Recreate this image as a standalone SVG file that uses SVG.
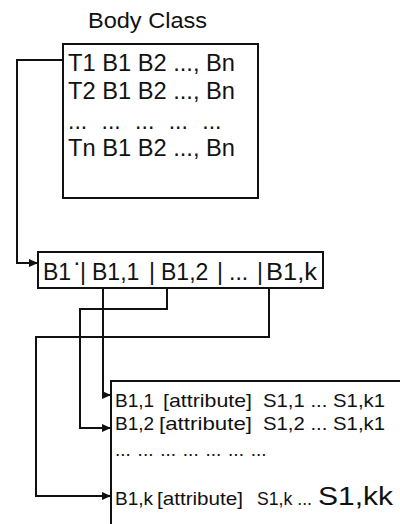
<svg xmlns="http://www.w3.org/2000/svg" width="400" height="524" viewBox="0 0 400 524">
<style>
text{font-family:"Liberation Sans",Arial,sans-serif;fill:#111}
.box{fill:#fff;stroke:#111;stroke-width:2}
.c{fill:none;stroke:#111;stroke-width:2}
.t1{font-size:23px}
.t2{font-size:23px}
.t3{font-size:19px}
</style>
<defs>
<marker id="ah" markerWidth="10" markerHeight="10" refX="9" refY="5" orient="auto" markerUnits="userSpaceOnUse">
<path d="M0,1 L9,5 L0,9 Z" fill="#111"/>
</marker>
</defs>
<rect width="400" height="524" fill="#fff"/>
<g id="body-class">
<text x="88" y="28" style="font-size:22px" textLength="119" lengthAdjust="spacingAndGlyphs">Body Class</text>
<rect class="box" x="63" y="44" width="195" height="154"/>
<text class="t1" x="68" y="71" textLength="167" lengthAdjust="spacingAndGlyphs">T1 B1 B2 ..., Bn</text>
<text class="t1" x="68" y="99" textLength="167" lengthAdjust="spacingAndGlyphs">T2 B1 B2 ..., Bn</text>
<text class="t1" x="68" y="129" word-spacing="8">... ... ... ... ...</text>
<text class="t1" x="68" y="156" textLength="167" lengthAdjust="spacingAndGlyphs">Tn B1 B2 ..., Bn</text>
</g>
<g id="b1-row">
<rect class="box" x="38" y="252" width="285" height="36"/>
<text class="t2" x="43" y="280">B1</text>
<text class="t2" x="73" y="270">·</text>
<text class="t2" x="80" y="280">|</text>
<text class="t2" x="92" y="280">B1,1</text>
<text class="t2" x="149" y="280">|</text>
<text class="t2" x="161" y="280">B1,2</text>
<text class="t2" x="217" y="280">|</text>
<text class="t2" x="229" y="280">...</text>
<text class="t2" x="257" y="280">|</text>
<text class="t2" x="266" y="280" textLength="51" lengthAdjust="spacingAndGlyphs">B1,k</text>
</g>
<g id="attributes">
<path class="box" d="M111,524 L111,381 L400,381"/>
<text class="t3" x="115" y="407">B1,1</text>
<text class="t3" x="163" y="407" textLength="89" lengthAdjust="spacingAndGlyphs">[attribute]</text>
<text class="t3" x="263" y="407" textLength="122" lengthAdjust="spacingAndGlyphs">S1,1 ... S1,k1</text>
<text class="t3" x="115" y="430">B1,2</text>
<text class="t3" x="159" y="430" textLength="93" lengthAdjust="spacingAndGlyphs">[attribute]</text>
<text class="t3" x="263" y="430" textLength="122" lengthAdjust="spacingAndGlyphs">S1,2 ... S1,k1</text>
<text class="t3" x="115" y="456" word-spacing="1.5">... ... ... ... ... ... ...</text>
<text class="t3" x="115" y="505">B1,k</text>
<text class="t3" x="157" y="505" textLength="86" lengthAdjust="spacingAndGlyphs">[attribute]</text>
<text class="t3" x="257" y="505" textLength="55" lengthAdjust="spacingAndGlyphs">S1,k ...</text>
<text x="318" y="505" font-size="26" textLength="75" lengthAdjust="spacingAndGlyphs">S1,kk</text>
</g>
<g id="connectors">
<path class="c" d="M63,60 H17 V263 H38" marker-end="url(#ah)"/>
<path class="c" d="M103,288 V395 H111" marker-end="url(#ah)"/>
<path class="c" d="M167,288 V309 H80 V428 H111" marker-end="url(#ah)"/>
<path class="c" d="M269,288 V337 H36 V496 H111" marker-end="url(#ah)"/>
</g>
</svg>
